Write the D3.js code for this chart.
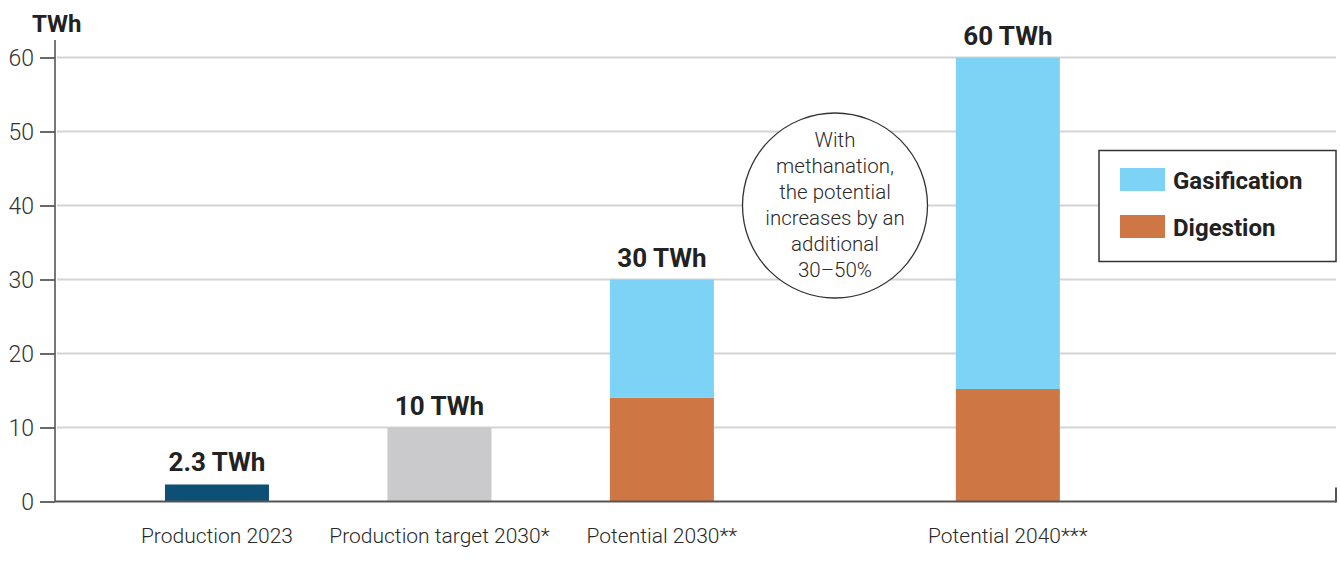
<!DOCTYPE html>
<html>
<head>
<meta charset="utf-8">
<script src="https://cdn.jsdelivr.net/npm/d3@7"></script>
<style>
  html, body { margin: 0; padding: 0; background: #fff; }
  svg { display: block; }
  text { font-family: Roboto, "Noto Sans", sans-serif; }
</style>
</head>
<body>
<svg id="chart" width="1340" height="564"></svg>
<script>
// ---- data ----
const categories = ["Production 2023", "Production target 2030*", "Potential 2030**", "Potential 2040***"];
const production = [2.3, 10, null, null];          // single-value bars
const digestion = [null, null, 14, 15.2];
const gasification = [null, null, 16, 44.8];
const totalLabels = ["2.3 TWh", "10 TWh", "30 TWh", "60 TWh"];
const yTicks = [0, 10, 20, 30, 40, 50, 60];
const seriesNames = ["Gasification", "Digestion"];
const noteLines = ["With", "methanation,", "the potential", "increases by an", "additional", "30–50%"];

// ---- layout ----
const axisLeft = 55, axisRight = 1336, yBase = 501.5, yTop = 57.5;
const svg = d3.select("#chart");

const y = d3.scaleLinear().domain([0, 60]).range([yBase, yTop]);

// slot positions (extra room before the last bar for the annotation)
const slotIndex = categories.map((c, i) => i + (i >= 3 ? 0.555 : 0));
const x = d3.scaleLinear().domain([-0.728, 5.03]).range([axisLeft, axisRight]);
const barW = 104;

const colors = {
  single: ["#0d4f75", "#cacacc"],
  Gasification: "#7dd3f5",
  Digestion: "#cf7744"
};

// gridlines
svg.append("g").selectAll("line").data(yTicks.filter(d => d > 0)).join("line")
  .attr("x1", axisLeft + 2).attr("x2", axisRight)
  .attr("y1", d => y(d)).attr("y2", d => y(d))
  .attr("stroke", "#d4d4d4").attr("stroke-width", 2);

// y axis
const yAxis = d3.axisLeft(y).tickValues(yTicks).tickSize(15).tickPadding(6).tickSizeOuter(0);
const gy = svg.append("g").attr("transform", `translate(${axisLeft},0)`).call(yAxis);
gy.select(".domain").remove();
gy.selectAll(".tick line").attr("stroke", "#444").attr("stroke-width", 1.6);
gy.selectAll(".tick text").attr("fill", "#333").style("font-size", "23px").style("font-weight", 300)
  .attr("dy", "0.36em");
svg.append("line").attr("x1", axisLeft).attr("x2", axisLeft).attr("y1", 40).attr("y2", yBase)
  .attr("stroke", "#555").attr("stroke-width", 1.6);

// axis title
svg.append("text").attr("x", 32).attr("y", 32).text("TWh")
  .attr("fill", "#222").style("font-size", "24px").style("font-weight", 700);

// bars
const bars = svg.append("g");
categories.forEach((c, i) => {
  const cx = x(slotIndex[i]);
  if (production[i] != null) {
    bars.append("rect").attr("x", cx - barW / 2).attr("width", barW)
      .attr("y", y(production[i])).attr("height", y(0) - y(production[i]))
      .attr("fill", colors.single[i]);
  } else {
    const d0 = digestion[i], g0 = gasification[i];
    bars.append("rect").attr("x", cx - barW / 2).attr("width", barW)
      .attr("y", y(d0)).attr("height", y(0) - y(d0)).attr("fill", colors.Digestion);
    bars.append("rect").attr("x", cx - barW / 2).attr("width", barW)
      .attr("y", y(d0 + g0)).attr("height", y(d0) - y(d0 + g0)).attr("fill", colors.Gasification);
  }
  const total = production[i] != null ? production[i] : digestion[i] + gasification[i];
  svg.append("text").attr("x", cx).attr("y", y(total) - 13).attr("text-anchor", "middle")
    .text(totalLabels[i]).attr("fill", "#222").style("font-size", "26px").style("font-weight", 700);
  svg.append("text").attr("x", cx).attr("y", 543).attr("text-anchor", "middle")
    .text(c).attr("fill", "#2a2a2a").style("font-size", "21px").style("font-weight", 300);
});

// x axis line
svg.append("line").attr("x1", axisLeft).attr("x2", axisRight).attr("y1", yBase).attr("y2", yBase)
  .attr("stroke", "#555").attr("stroke-width", 2);
svg.append("line").attr("x1", axisRight).attr("x2", axisRight).attr("y1", yBase - 14).attr("y2", yBase + 1)
  .attr("stroke", "#555").attr("stroke-width", 2);

// annotation circle
const note = svg.append("g").attr("transform", "translate(835,205.5)");
note.append("circle").attr("r", 92.5).attr("fill", "#fff").attr("stroke", "#333").attr("stroke-width", 1.3);
note.selectAll("text").data(noteLines).join("text")
  .attr("x", 0).attr("y", (d, i) => -58.5 + i * 26)
  .attr("text-anchor", "middle").text(d => d)
  .attr("fill", "#2a2a2a").style("font-size", "20.5px").style("font-weight", 300);

// legend
const lg = svg.append("g");
lg.append("rect").attr("x", 1099).attr("y", 150.5).attr("width", 237).attr("height", 111)
  .attr("fill", "#fff").attr("stroke", "#333").attr("stroke-width", 1.5);
seriesNames.forEach((s, i) => {
  lg.append("rect").attr("x", 1120).attr("y", 168 + i * 47).attr("width", 45).attr("height", 23)
    .attr("fill", colors[s]);
  lg.append("text").attr("x", 1173).attr("y", 180 + i * 47).attr("dy", "0.36em").text(s)
    .attr("fill", "#222").style("font-size", "24px").style("font-weight", 700);
});
</script>
</body>
</html>
